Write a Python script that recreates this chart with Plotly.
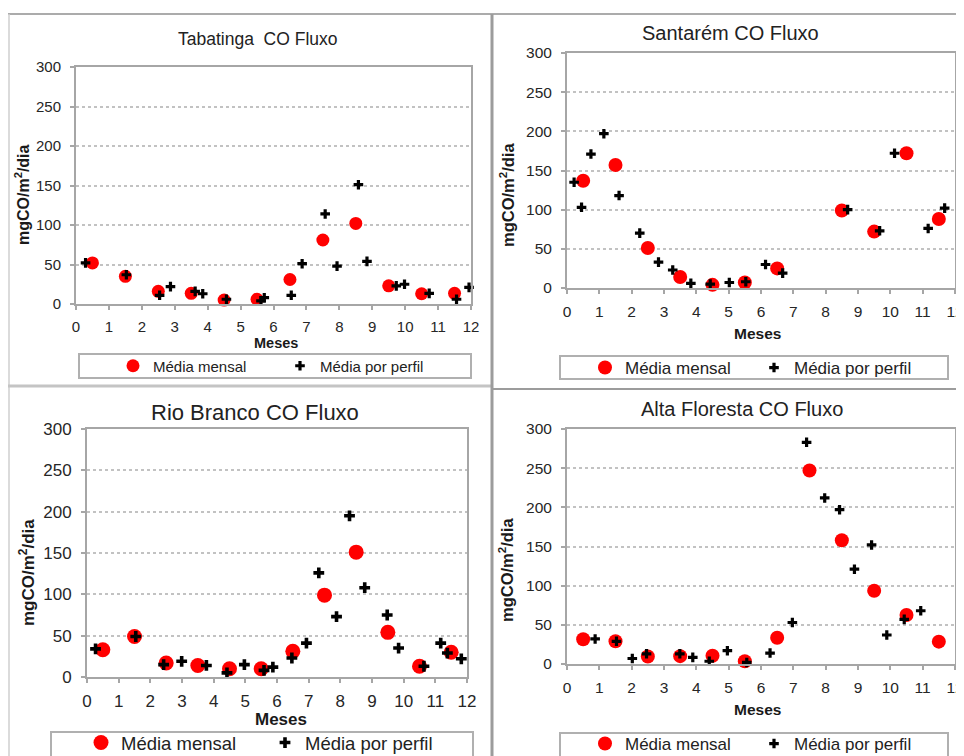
import plotly.graph_objects as go

FONT = "Liberation Sans, Arial, sans-serif"
OFF = 8                      # page body margin of the browser
W, H = 964 - OFF, 756 - OFF  # figure fits inside the window

# ---------------- data ----------------
months_mid = [0.5, 1.5, 2.5, 3.5, 4.5, 5.5, 6.5, 7.5, 8.5, 9.5, 10.5, 11.5]

tab_mes_x = months_mid
tab_mes_y = [52, 35, 16, 13.5, 5, 6, 31, 81, 102, 23, 13, 13.5]
tab_perf_x = [0.29, 1.53, 2.54, 2.87, 3.62, 3.85, 4.57, 5.62, 5.72, 6.54, 6.87, 7.57,
              7.93, 8.58, 8.84, 9.73, 9.98, 10.73, 11.56, 11.94]
tab_perf_y = [52, 37, 11, 22, 16, 13, 6, 4, 8, 11, 51, 114, 48, 151, 54, 23, 25, 13.5, 6, 21]

san_mes_x = [0.5, 1.5, 2.5, 3.5, 4.5, 5.5, 6.5, 8.5, 9.5, 10.5, 11.5]
san_mes_y = [137, 157, 51, 14, 4, 7, 25, 99, 72, 172, 88]
san_perf_x = [0.22, 0.45, 0.74, 1.14, 1.61, 2.25, 2.83, 3.27, 3.83, 4.43, 5.02, 5.53,
              6.14, 6.67, 8.68, 9.67, 10.13, 11.17, 11.68]
san_perf_y = [135, 103, 171, 197, 118, 70, 33, 23, 6, 5, 7, 8, 30, 19, 100, 73, 172, 76, 102]

rio_mes_x = months_mid
rio_mes_y = [33, 49, 17, 14, 10, 10, 31, 99, 151, 54, 13, 30]
rio_perf_x = [0.27, 1.54, 2.42, 2.99, 3.77, 4.42, 4.97, 5.59, 5.87, 6.47, 6.93, 7.32,
              7.88, 8.29, 8.77, 9.48, 9.84, 10.64, 11.17, 11.38, 11.82]
rio_perf_y = [34, 49, 15, 19, 14, 5, 15, 8, 12, 23, 41, 126, 73, 195, 108, 75, 35, 13, 41, 29, 22]

alt_mes_x = months_mid
alt_mes_y = [31.5, 29, 9.5, 10, 10.5, 3.5, 33.5, 247, 158, 93.5, 62.5, 28.5]
alt_perf_x = [0.87, 1.53, 2.02, 2.46, 3.49, 3.89, 4.40, 4.96, 5.56, 6.28, 6.97, 7.41,
              7.97, 8.43, 8.89, 9.42, 9.89, 10.43, 10.94]
alt_perf_y = [32, 29, 7, 13, 13, 8.5, 3.5, 17, 2, 14, 53, 283, 212, 197, 121, 152, 37, 57, 68]

titles = ["Tabatinga  CO Fluxo", "Santarém CO Fluxo", "Rio Branco CO Fluxo", "Alta Floresta CO Fluxo"]
x_title = "Meses"
y_title = "mgCO/m<sup>2</sup>/dia"
legend_names = ["Média mensal", "Média por perfil"]
x_ticks = list(range(0, 13))
y_ticks = [0, 50, 100, 150, 200, 250, 300]

series = [
    (tab_mes_x, tab_mes_y, tab_perf_x, tab_perf_y),
    (san_mes_x, san_mes_y, san_perf_x, san_perf_y),
    (rio_mes_x, rio_mes_y, rio_perf_x, rio_perf_y),
    (alt_mes_x, alt_mes_y, alt_perf_x, alt_perf_y),
]

# ---------------- layout (window pixel geometry) ----------------
panels = [
    dict(plot=(76, 67, 471, 304), title=(258, 39, 17.5), xt=(276, 343, 14.5), yt=(22, 195, 16),
         tick=15, leg=dict(box=(79, 354, 471, 378), x=113, y=366, ew=122, fs=15), ms=13, cs=8),
    dict(plot=(567, 53, 955, 288), title=(730, 33, 20), xt=(757, 333, 15.5), yt=(507, 195, 16.5),
         tick=15.5, leg=dict(box=(560, 356, 948, 379), x=585, y=368, ew=124, fs=17), ms=14, cs=8),
    dict(plot=(87, 429, 467, 677), title=(255, 412, 22), xt=(281, 719, 17), yt=(27, 573, 17),
         tick=17, leg=dict(box=(51, 732, 473, 770), x=81, y=743, ew=139, fs=18.5), ms=15, cs=9),
    dict(plot=(567, 429, 955, 664), title=(742, 409, 20), xt=(757, 709, 15.5), yt=(506, 570, 16.5),
         tick=15.5, leg=dict(box=(560, 733, 948, 770), x=585, y=744, ew=124, fs=17), ms=14, cs=8),
]


def px(x):
    return (x - OFF) / W


def py(y):
    return 1 - (y - OFF) / H


fig = go.Figure()
layout = dict(
    width=W, height=H, margin=dict(l=0, r=0, t=0, b=0, autoexpand=False),
    paper_bgcolor="white", plot_bgcolor="white",
    font=dict(family=FONT, color="#1a1a1a"),
    showlegend=True,
)
annotations = []
shapes = []

for i, (p, (mx, my, qx, qy)) in enumerate(zip(panels, series)):
    n = "" if i == 0 else str(i + 1)
    xa, ya = "x" + n, "y" + n
    leg = "legend" + n
    fig.add_trace(go.Scatter(
        x=mx, y=my, mode="markers", name=legend_names[0], xaxis=xa, yaxis=ya, legend=leg,
        marker=dict(color="#ff0000", size=p["ms"], line=dict(width=0)), cliponaxis=False))
    fig.add_trace(go.Scatter(
        x=qx, y=qy, mode="markers", name=legend_names[1], xaxis=xa, yaxis=ya, legend=leg,
        marker=dict(color="#000000", size=p["cs"], symbol="cross", line=dict(width=0)),
        cliponaxis=False))

    x0, y0, x1, y1 = p["plot"]
    layout["xaxis" + n] = dict(
        domain=[px(x0), px(x1)], anchor=ya, range=[0, 12], tickvals=x_ticks,
        showgrid=False, zeroline=False, showline=True, linecolor="#a6a6a6", linewidth=2,
        mirror=True, ticks="outside", ticklen=4, tickcolor="#a6a6a6", tickwidth=1.5,
        tickfont=dict(size=p["tick"], color="#262626", family=FONT), ticklabelstandoff=4)
    layout["yaxis" + n] = dict(
        domain=[py(y1), py(y0)], anchor=xa, range=[0, 300], tickvals=y_ticks,
        showgrid=True, gridcolor="#c2c2c2", gridwidth=1.5, griddash="dot",
        zeroline=False, showline=True, linecolor="#a6a6a6", linewidth=2, mirror=True,
        ticks="outside", ticklen=4, tickcolor="#a6a6a6", tickwidth=1.5,
        tickfont=dict(size=p["tick"], color="#262626", family=FONT), ticklabelstandoff=6)

    tx, ty, tf = p["title"]
    annotations.append(dict(text=titles[i], x=px(tx), y=py(ty), xref="paper", yref="paper",
                            xanchor="center", yanchor="middle", showarrow=False,
                            font=dict(size=tf, color="#222222", family=FONT)))
    mx_, my_, mf = p["xt"]
    annotations.append(dict(text="<b>" + x_title + "</b>", x=px(mx_), y=py(my_), xref="paper",
                            yref="paper", xanchor="center", yanchor="middle", showarrow=False,
                            font=dict(size=mf, color="#1a1a1a", family=FONT)))
    yx, yy, yf = p["yt"]
    annotations.append(dict(text="<b>" + y_title + "</b>", x=px(yx), y=py(yy), xref="paper",
                            yref="paper", xanchor="center", yanchor="middle", showarrow=False,
                            textangle=-90, font=dict(size=yf, color="#1a1a1a", family=FONT)))

    L = p["leg"]
    layout[leg] = dict(
        orientation="h", x=px(L["x"]), xanchor="left", y=py(L["y"]), yanchor="middle",
        bgcolor="rgba(0,0,0,0)", borderwidth=0, entrywidth=L["ew"], entrywidthmode="pixels",
        font=dict(size=L["fs"], color="#222222", family=FONT), itemclick=False,
        itemdoubleclick=False)
    bx0, by0, bx1, by1 = L["box"]
    shapes.append(dict(type="rect", xref="paper", yref="paper", x0=px(bx0), x1=px(bx1),
                       y0=py(by1), y1=py(by0), line=dict(color="#b0b0b0", width=2)))

# outer frame / separators
frame_lines = [
    ((8, 14), (964, 14), "#ababab", 2),
    ((9, 14), (9, 756), "#cfcfcf", 1.5),
    ((8, 386), (492, 386), "#c4c4c4", 3),
    ((492, 389), (964, 389), "#9c9c9c", 2),
    ((492, 14), (492, 756), "#9c9c9c", 3),
]
for (ax, ay), (bx, by), c, w in frame_lines:
    shapes.append(dict(type="line", xref="paper", yref="paper", x0=px(ax), y0=py(ay),
                       x1=px(bx), y1=py(by), line=dict(color=c, width=w)))

layout["annotations"] = annotations
layout["shapes"] = shapes
fig.update_layout(**layout)
fig.write_html("out.html")
